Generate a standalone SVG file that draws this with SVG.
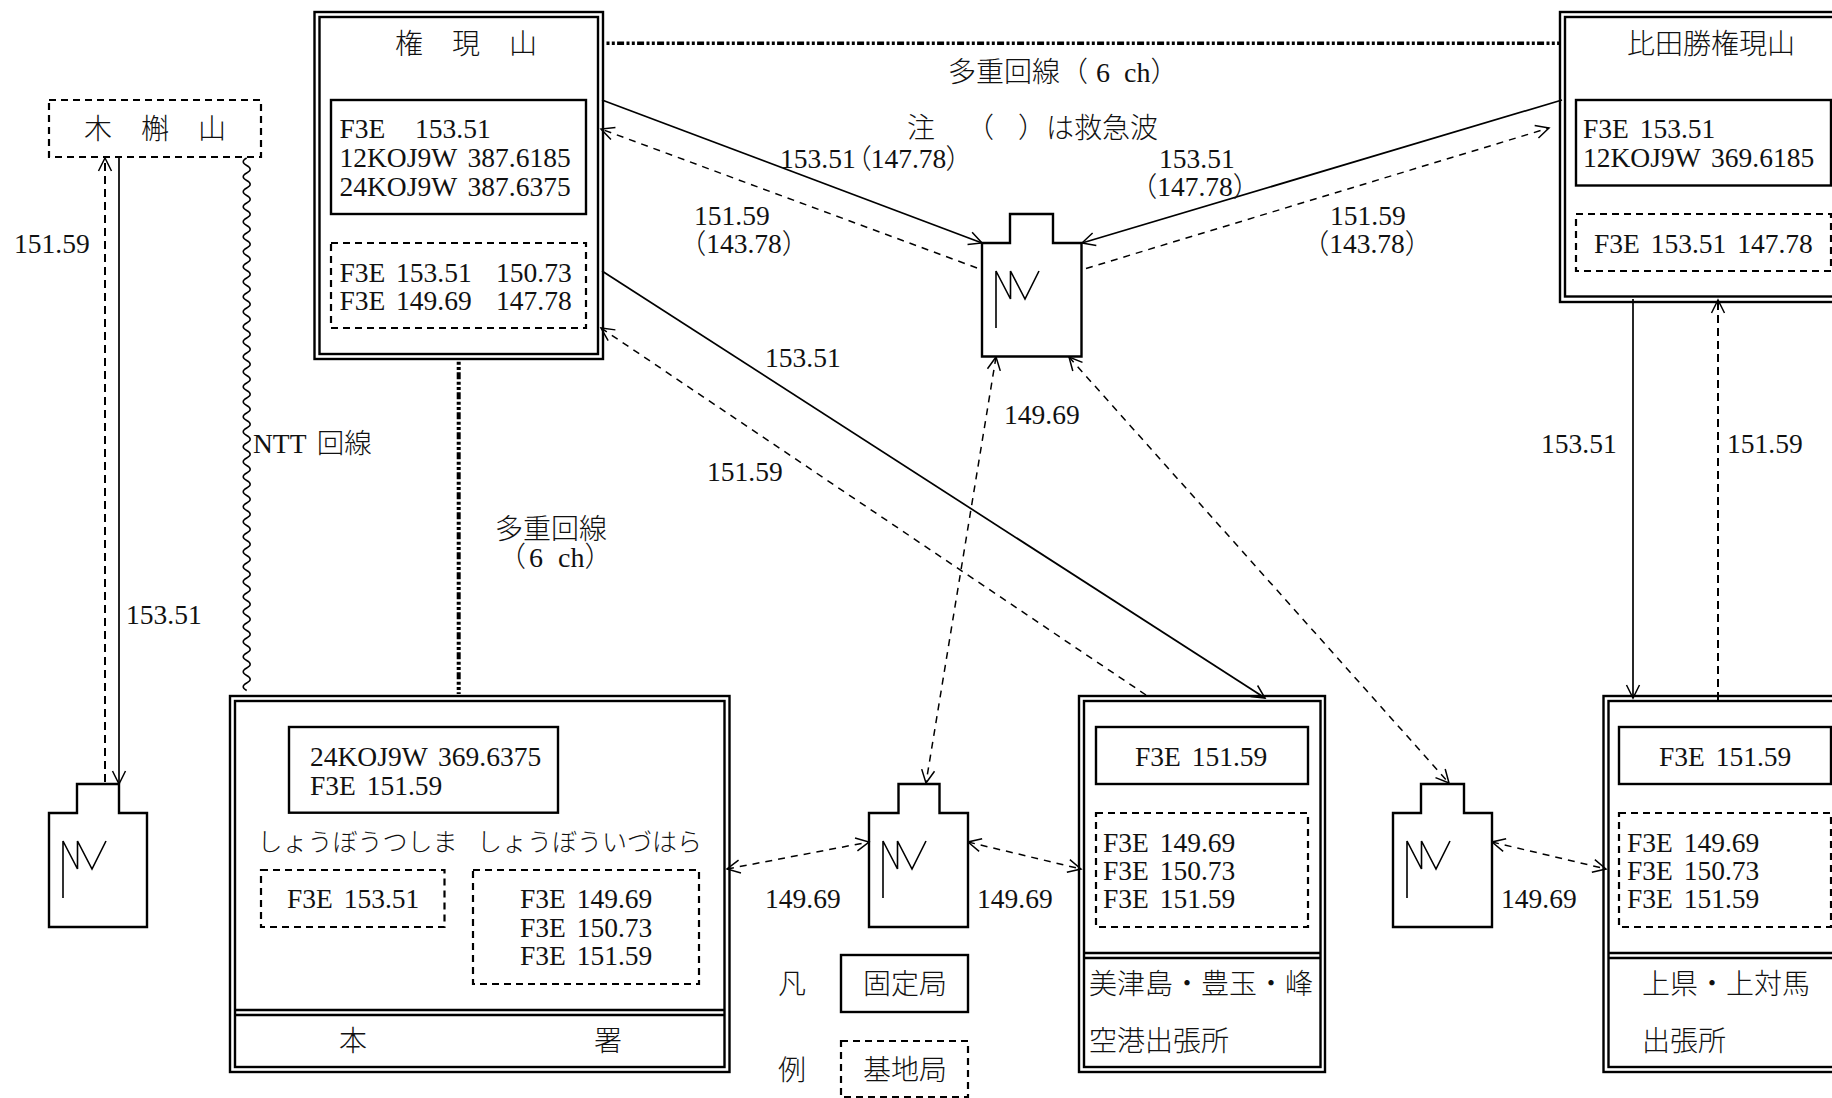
<svg xmlns="http://www.w3.org/2000/svg" width="1832" height="1098" viewBox="0 0 1832 1098">
<style>
text{font-family:"Liberation Serif","Noto Sans CJK JP",serif;font-size:27.5px;font-weight:300;word-spacing:4px;fill:#111}
.j{font-size:28px}
.k{font-size:25px}
.m{text-anchor:middle}
.h{font-feature-settings:"palt"}
rect,path{fill:none;stroke:#000}
.b{stroke-width:2.4}
.d{stroke-width:2.2;stroke-dasharray:7 5}
.z{stroke-width:1.6}
.sa{stroke-width:1.7;marker-end:url(#a)}
.da{stroke-width:1.5;stroke-dasharray:7 6;marker-end:url(#a)}
.dv{stroke-width:2;stroke-dasharray:8 5;marker-end:url(#a)}
.dd{stroke-width:1.5;stroke-dasharray:7 6;marker-end:url(#a);marker-start:url(#r)}
.mx{stroke-dasharray:3 2.300 3 2.300 7 2.400}
.w{stroke-width:1.5}
</style>
<defs>
<marker id="a" markerUnits="userSpaceOnUse" markerWidth="18" markerHeight="18" refX="14" refY="8" orient="auto"><path d="M1 1.500L14 8L1 14.500" stroke-width="1.500"/></marker>
<marker id="r" markerUnits="userSpaceOnUse" markerWidth="18" markerHeight="18" refX="1" refY="8" orient="auto"><path d="M14 1.500L1 8L14 14.500" stroke-width="1.500"/></marker>
<path id="ant" class="z" d="M14 57V0L28.500 28V0L43 28L57 0"/>
</defs>
<g id="connectors">
<path class="mx" stroke-width="3.600" d="M606.500 43.300H1560"/>
<path class="mx" stroke-width="4" d="M458.700 361.700V694"/>
<path class="w" d="M246.700 158q-7 3.750 0 7.500
t0 7.500t0 7.500t0 7.500t0 7.500t0 7.500t0 7.500t0 7.500t0 7.500t0 7.500t0 7.500
t0 7.500t0 7.500t0 7.500t0 7.500t0 7.500t0 7.500t0 7.500t0 7.500t0 7.500t0 7.500
t0 7.500t0 7.500t0 7.500t0 7.500t0 7.500t0 7.500t0 7.500t0 7.500t0 7.500t0 7.500
t0 7.500t0 7.500t0 7.500t0 7.500t0 7.500t0 7.500t0 7.500t0 7.500t0 7.500t0 7.500
t0 7.500t0 7.500t0 7.500t0 7.500t0 7.500t0 7.500t0 7.500t0 7.500t0 7.500t0 7.500
t0 7.500t0 7.500t0 7.500t0 7.500t0 7.500t0 7.500t0 7.500t0 7.500t0 7.500t0 7.500
t0 7.500t0 7.500t0 7.500t0 7.500t0 7.500t0 7.500t0 7.500t0 7.500t0 7.500t0 7.500"/>
<path class="dv" d="M105 782V158"/>
<path class="sa" d="M119 157V784"/>
<path class="sa" d="M602 100L982 243"/>
<path class="da" d="M977 268L601 129"/>
<path class="sa" d="M1562 100L1082 243"/>
<path class="da" d="M1086 268.500L1549 128"/>
<path class="sa" d="M602 271L1265 698"/>
<path class="da" d="M1146 695L601 328"/>
<path class="dd" d="M996 357L926 783"/>
<path class="dd" d="M1069 357L1449 783"/>
<path class="dd" d="M727 869L869 842"/>
<path class="dd" d="M968 842L1081 869"/>
<path class="dd" d="M1492 842L1606 869"/>
<path class="sa" d="M1633 299V698"/>
<path class="dv" d="M1718 700V300"/>
</g>
<g id="mokkoku">
<rect class="d" x="49" y="100" width="212" height="57"/>
<text class="j" x="84" y="139">木</text><text class="j" x="141" y="139">槲</text><text class="j" x="198" y="139">山</text>
</g>
<g id="gongen">
<rect class="b" x="314.500" y="12" width="288.500" height="347"/>
<rect class="b" x="319.500" y="17" width="278.500" height="337"/>
<rect class="b" x="331" y="100" width="255" height="114"/>
<rect class="d" x="331" y="243" width="255" height="85"/>
<text class="j" x="395" y="54">権</text><text class="j" x="452" y="54">現</text><text class="j" x="509" y="54">山</text>
<text x="339.500" y="138">F3E</text><text x="415" y="138">153.51</text>
<text x="339.500" y="167">12KOJ9W 387.6185</text>
<text x="339.500" y="195.500">24KOJ9W 387.6375</text>
<text x="339.500" y="282">F3E</text><text x="396" y="282">153.51</text><text x="496" y="282">150.73</text>
<text x="339.500" y="310">F3E</text><text x="396" y="310">149.69</text><text x="496" y="310">147.78</text>
</g>
<g id="hitakatsu">
<rect class="b" x="1560" y="12" width="290" height="290"/>
<rect class="b" x="1565" y="17" width="280" height="279.500"/>
<rect class="b" x="1576" y="100" width="255" height="85.500"/>
<rect class="d" x="1576" y="214" width="255" height="57"/>
<text class="j" x="1627" y="54">比田勝権現山</text>
<text x="1583" y="138">F3E 153.51</text>
<text x="1583" y="167">12KOJ9W 369.6185</text>
<text x="1594" y="252.500">F3E 153.51 147.78</text>
</g>
<g id="honsho">
<rect class="b" x="230" y="696" width="499.500" height="376"/>
<rect class="b" x="235" y="701" width="489.500" height="366"/>
<path class="b" d="M235 1010H724.500M235 1015H724.500"/>
<rect class="b" x="289" y="727" width="269" height="85.700"/>
<rect class="d" x="261" y="870" width="183.500" height="57"/>
<rect class="d" x="473" y="870" width="226" height="114"/>
<text x="310" y="766">24KOJ9W 369.6375</text>
<text x="310" y="795">F3E 151.59</text>
<text class="k" x="257.500" y="851">しょうぼうつしま</text>
<text class="k" x="477" y="851">しょうぼういづはら</text>
<text x="287" y="908">F3E 153.51</text>
<text x="520" y="908">F3E 149.69</text>
<text x="520" y="936.500">F3E 150.73</text>
<text x="520" y="965">F3E 151.59</text>
<text class="j" x="339" y="1051">本</text><text class="j" x="594" y="1051">署</text>
</g>
<g id="mitsushima">
<rect class="b" x="1079" y="696" width="246" height="376"/>
<rect class="b" x="1084" y="701" width="236.500" height="366"/>
<path class="b" d="M1084 953H1320.500M1084 958H1320.500"/>
<rect class="b" x="1096" y="727" width="212" height="57"/>
<rect class="d" x="1096" y="813" width="212" height="114"/>
<text x="1135" y="766">F3E 151.59</text>
<text x="1103" y="851.500">F3E 149.69</text>
<text x="1103" y="880">F3E 150.73</text>
<text x="1103" y="908">F3E 151.59</text>
<text class="j" x="1089" y="994">美津島・豊玉・峰</text>
<text class="j" x="1089" y="1051">空港出張所</text>
</g>
<g id="kamiagata">
<rect class="b" x="1603.500" y="696" width="250" height="376"/>
<rect class="b" x="1608.500" y="701" width="240" height="366"/>
<path class="b" d="M1608 953H1850M1608 958H1850"/>
<rect class="b" x="1619" y="727" width="212" height="57"/>
<rect class="d" x="1619" y="813" width="212" height="114"/>
<text x="1659" y="766">F3E 151.59</text>
<text x="1627" y="851.500">F3E 149.69</text>
<text x="1627" y="880">F3E 150.73</text>
<text x="1627" y="908">F3E 151.59</text>
<text class="j" x="1642" y="994">上県・上対馬</text>
<text class="j" x="1642" y="1051">出張所</text>
</g>
<g id="ant1"><path class="b" d="M49 813H77V784H119V813H147V927H49Z"/><use href="#ant" x="49" y="841"/></g>
<g id="ant2"><path class="b" d="M982 243H1010V214H1053V243H1081.500V356.500H982Z"/><use href="#ant" x="982" y="271"/></g>
<g id="ant3"><path class="b" d="M869 813H898.500V784H939.500V813H968V927H869Z"/><use href="#ant" x="869" y="841"/></g>
<g id="ant4"><path class="b" d="M1393 813H1421V784H1464V813H1492V927H1393Z"/><use href="#ant" x="1393" y="841"/></g>
<g id="legend">
<rect class="b" x="841" y="955" width="127" height="57"/>
<rect class="d" x="841" y="1041" width="127" height="56"/>
<text class="j" x="778" y="994">凡</text><text class="j" x="778" y="1080">例</text>
<text class="j" x="863" y="994">固定局</text><text class="j" x="863" y="1080">基地局</text>
</g>
<g id="labels">
<text x="14" y="253">151.59</text>
<text x="780" y="168">153.51<tspan class="h" x="857">（147.78）</tspan></text>
<text x="694" y="225">151.59</text>
<text class="m" x="744" y="253">（143.78）</text>
<text x="1159" y="168">153.51</text>
<text class="m" x="1195" y="196">（147.78）</text>
<text x="1330" y="225">151.59</text>
<text class="m" x="1367" y="253">（143.78）</text>
<text class="j" x="948" y="82">多重回線（<tspan x="1096">6 </tspan><tspan x="1124">ch</tspan>）</text>
<text class="j" x="907" y="138">注<tspan x="966">（</tspan><tspan x="1018">）</tspan>は救急波</text>
<text x="765" y="367">153.51</text>
<text x="1004" y="424">149.69</text>
<text x="707" y="481">151.59</text>
<text x="253" y="453">NTT 回線</text>
<text class="j" x="495" y="539">多重回線</text>
<text class="j" x="498" y="567">（<tspan x="529">6 </tspan><tspan x="558">ch</tspan>）</text>
<text x="126" y="624">153.51</text>
<text x="1541" y="453">153.51</text>
<text x="1727" y="453">151.59</text>
<text x="765" y="908">149.69</text>
<text x="977" y="908">149.69</text>
<text x="1501" y="908">149.69</text>
</g>
</svg>
